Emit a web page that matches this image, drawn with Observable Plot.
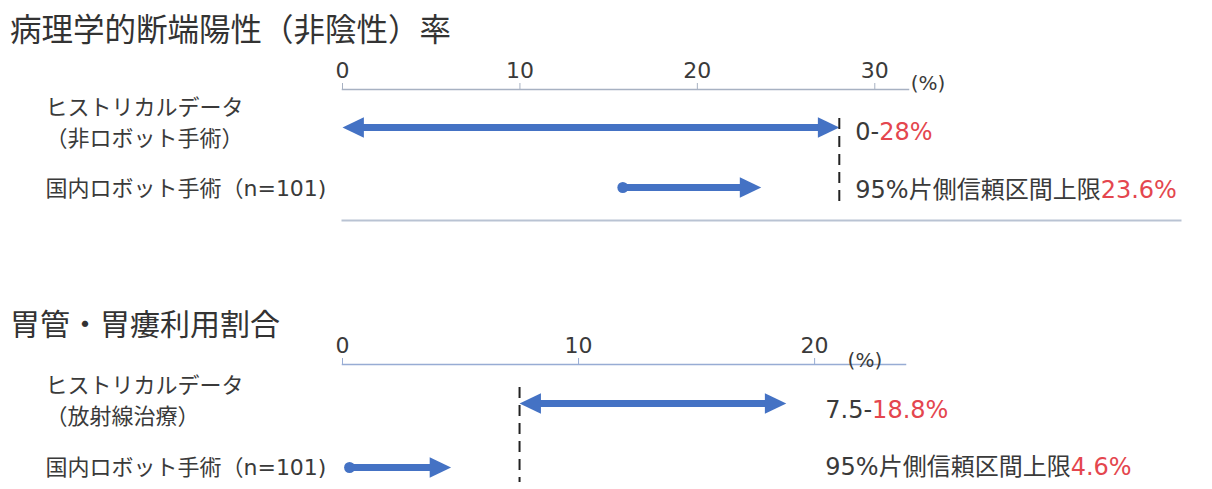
<!DOCTYPE html>
<html><head><meta charset="utf-8">
<script src="https://cdn.jsdelivr.net/npm/d3@7"></script>
<script src="https://cdn.jsdelivr.net/npm/@observablehq/plot@0.6"></script>
<style>
body{margin:0;background:#fff;font-family:"Noto Sans CJK JP",sans-serif;}
#wrap{position:relative;width:1212px;height:489px;overflow:hidden;background:#fff}
.title{position:absolute;left:10px;color:#333;white-space:nowrap;font-family:"Noto Sans CJK JP",sans-serif}
.panel{position:absolute;left:0}
</style></head>
<body><div id="wrap">
<div class="panel" id="p1" style="top:0"></div>
<div class="panel" id="p2" style="top:250px"></div>
<div class="title" id="t1" style="top:12px;font-size:31.5px;line-height:31px"></div>
<div class="title" id="t2" style="top:307px;font-size:30px;line-height:31px"></div>
</div>
<script>
// ---- data ----
const rows = ["hist", "robot"];

const p1Title = "病理学的断端陽性（非陰性）率";
const p1Ticks = [0, 10, 20, 30];
const p1AxisMax = 31.9;
const p1Labels = ["ヒストリカルデータ\n（非ロボット手術）", "国内ロボット手術（n=101)"];
const p1HistRange = [0, 28];
const p1RobotPoint = 15.8;
const p1RobotUpper = 23.6;
const p1Notes = [["0-", "28%"], ["95%片側信頼区間上限", "23.6%"]];

const p2Title = "胃管・胃瘻利用割合";
const p2Ticks = [0, 10, 20];
const p2AxisMax = 23.85;
const p2Labels = ["ヒストリカルデータ\n（放射線治療）", "国内ロボット手術（n=101)"];
const p2HistRange = [7.5, 18.8];
const p2RobotPoint = 0.3;
const p2RobotUpper = 4.6;
const p2Notes = [["7.5-", "18.8%"], ["95%片側信頼区間上限", "4.6%"]];

const unitLabel = "(%)";

// ---- styles ----
const FONT = '"DejaVu Sans", "Noto Sans CJK JP", sans-serif';
const BLUE = "#4472c4";
const RED = "#e4464e";
const TXT = "#3a3a3a";
const LABEL_SIZE = 22, NOTE_SIZE = 24, TICK_SIZE = 22;

const canvas = document.createElement("canvas");
const ctx = canvas.getContext("2d");
function measure(s, size) { ctx.font = `${size}px ${FONT}`; return ctx.measureText(s).width; }

const arrowHead = {
  draw(context, size) {
    const s = Math.sqrt(size);
    const L = 1.15 * s, W = 1.1 * s;
    context.moveTo(0, 0);
    context.lineTo(-L, -W / 2);
    context.lineTo(-L, W / 2);
    context.closePath();
  }
};

function panel(cfg) {
  const histData = [{row: rows[0], lo: cfg.hist[0], hi: cfg.hist[1]}];
  const robotData = [{row: rows[1], lo: cfg.point, hi: cfg.upper}];
  const labelData = rows.map((r, i) => ({row: r, label: cfg.labels[i]}));
  const noteData = rows.map((r, i) => ({row: r, x: cfg.hist[1], black: cfg.notes[i][0], red: cfg.notes[i][1]}));
  const L = cfg.layout;
  const marks = [
    Plot.frame({anchor: "top", stroke: L.axisColor, strokeWidth: 1.5, insetRight: L.axisInsetRight}),
    Plot.axisX({anchor: "top", ticks: cfg.ticks, tickSize: 7, tickPadding: 5, fontSize: TICK_SIZE, stroke: L.axisColor, fill: TXT, label: null, tickFormat: d3.format("d")}),
    Plot.text([unitLabel], {x: () => cfg.ticks[cfg.ticks.length - 1], frameAnchor: "top", text: d => d, dx: L.unitDx, dy: L.unitDy, textAnchor: "start", fontSize: 20, fill: TXT}),
    // historical double-headed arrow
    Plot.ruleY(histData, {y: "row", x1: "lo", x2: "hi", insetLeft: 12, insetRight: 12, stroke: BLUE, strokeWidth: 7}),
    Plot.dot(histData, {x: "hi", y: "row", symbol: arrowHead, r: 10.5, fill: BLUE, stroke: "none"}),
    Plot.dot(histData, {x: "lo", y: "row", symbol: arrowHead, r: 10.5, fill: BLUE, stroke: "none", rotate: 180}),
    // robot arrow
    Plot.ruleY(robotData, {y: "row", x1: "lo", x2: "hi", insetRight: 12, stroke: BLUE, strokeWidth: 7}),
    Plot.dot(robotData, {x: "lo", y: "row", r: 5.5, fill: BLUE, stroke: "none"}),
    Plot.dot(robotData, {x: "hi", y: "row", symbol: arrowHead, r: 10.5, fill: BLUE, stroke: "none"}),
    // threshold dashed line
    Plot.ruleX([cfg.threshold], {x: d => d, insetTop: L.dashTop, insetBottom: L.dashBottom, stroke: "#222", strokeWidth: 2, strokeDasharray: "11,7"}),
    // left labels
    Plot.text(labelData.filter(d => d.row === rows[0]), {frameAnchor: "left", y: "row", text: "label", dx: L.labelX - L.marginLeft, dy: L.labelDy[0], textAnchor: "start", lineAnchor: "middle", lineHeight: 1.4, fontSize: LABEL_SIZE, fill: TXT}),
    Plot.text(labelData.filter(d => d.row === rows[1]), {frameAnchor: "left", y: "row", text: "label", dx: L.labelX - L.marginLeft, dy: L.labelDy[1], textAnchor: "start", lineAnchor: "middle", fontSize: LABEL_SIZE, fill: TXT}),
  ];
  noteData.forEach((n, i) => {
    const w = measure(n.black, NOTE_SIZE);
    marks.push(Plot.text([n], {x: "x", y: "row", text: "black", dx: L.noteDx, dy: L.noteDy[i], textAnchor: "start", fontSize: NOTE_SIZE, fill: TXT}));
    marks.push(Plot.text([n], {x: "x", y: "row", text: "red", dx: L.noteDx + w, dy: L.noteDy[i], textAnchor: "start", fontSize: NOTE_SIZE, fill: RED}));
  });
  if (L.base) marks.push(Plot.frame({anchor: "bottom", stroke: "#b9c3d3", strokeWidth: 2}));
  return Plot.plot({
    width: 1212, height: L.height,
    marginLeft: L.marginLeft, marginRight: L.marginRight, marginTop: L.marginTop, marginBottom: L.marginBottom,
    style: {fontFamily: FONT, background: "transparent", overflow: "visible"},
    x: {domain: [0, cfg.axisMax], range: L.xRange},
    y: {type: "point", domain: rows, range: L.yRange, padding: 0, axis: null},
    marks
  });
}

document.getElementById("t1").textContent = p1Title;
document.getElementById("t2").textContent = p2Title;

document.getElementById("p1").append(panel({
  ticks: p1Ticks, axisMax: p1AxisMax, labels: p1Labels, hist: p1HistRange, point: p1RobotPoint, upper: p1RobotUpper,
  notes: p1Notes, threshold: p1HistRange[1],
  layout: {height: 250, marginLeft: 342, marginRight: 32, marginTop: 89, marginBottom: 30, xRange: [342, 908], yRange: [127, 187],
    axisInsetRight: 272, axisColor: "#a7b1c2", dashTop: 29, dashBottom: 15, labelX: 45, labelDy: [-7, 1], noteDx: 16, noteDy: [5, 3],
    unitDx: 36, unitDy: -14, base: true}
}));

document.getElementById("p2").append(panel({
  ticks: p2Ticks, axisMax: p2AxisMax, labels: p2Labels, hist: p2HistRange, point: p2RobotPoint, upper: p2RobotUpper,
  notes: p2Notes, threshold: p2HistRange[0],
  layout: {height: 239, marginLeft: 342, marginRight: 307, marginTop: 114, marginBottom: 7, xRange: [342, 905], yRange: [153, 217],
    axisInsetRight: 0, axisColor: "#97acd4", dashTop: 23, dashBottom: 0, labelX: 45, labelDy: [-5, 0], noteDx: 39, noteDy: [7, 0],
    unitDx: 33, unitDy: -12, base: false}
}));
</script>
</body></html>
